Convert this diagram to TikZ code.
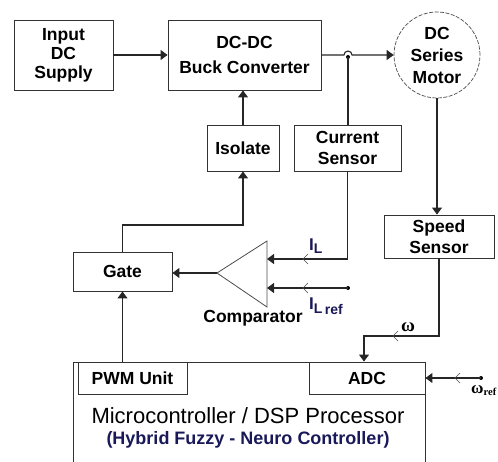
\documentclass[tikz,border=0pt]{standalone}
\usepackage{fontspec}
\setmainfont{Liberation Sans}
\newfontfamily\serifb{Liberation Serif}
\usetikzlibrary{arrows.meta,calc}
\definecolor{navytext}{RGB}{25,25,90}
\begin{document}
\begin{tikzpicture}[x=1pt,y=-1pt,
  box/.style={draw=black!80, line width=0.9pt, fill=white, inner sep=0pt, align=center, font=\fontsize{17.5}{19}\selectfont\bfseries},
  conn/.style={draw=black!85, line width=1.1pt},
  arr/.style={conn, -{Triangle[length=7pt,width=10pt]}},
  chev/.pic={\draw[black!70, line width=0.6pt] (5,-5) -- (0,0) -- (5,5);},
  jdot/.style={circle, fill=black, inner sep=0pt, minimum size=4pt}
]
\useasboundingbox (0,0) rectangle (498,462);
\clip (0,0) rectangle (498,462);

% boxes
\node[box, minimum width=99pt, minimum height=70pt] (input) at (63.5,55) {Input\\DC\\Supply};
\node[box, minimum width=153pt, minimum height=70pt, font=\fontsize{17.5}{25}\selectfont\bfseries] (buck) at (244.5,55) {DC-DC\\Buck Converter};
\node[draw=black!70, line width=0.7pt, dash pattern=on 4pt off 1.5pt, circle, minimum size=86pt, inner sep=0pt, align=center, font=\fontsize{17.5}{22}\selectfont\bfseries] (motor) at (437,55) {DC\\Series\\Motor};
\node[box, minimum width=72pt, minimum height=46pt] (iso) at (243,148) {Isolate};
\node[box, minimum width=107pt, minimum height=46pt, font=\fontsize{17.5}{21}\selectfont\bfseries] (cur) at (347.5,148) {Current\\Sensor};
\node[box, minimum width=110pt, minimum height=43pt, font=\fontsize{17.5}{21}\selectfont\bfseries] (speed) at (439,236.5) {Speed\\Sensor};
\node[box, minimum width=99pt, minimum height=39pt] (gate) at (122.5,271.5) {Gate};
\node[font=\fontsize{17.5}{20}\selectfont\bfseries, inner sep=0pt] (complbl) at (253,318) {Comparator};

\node[draw=black!80, line width=0.9pt, minimum width=352pt, minimum height=160pt, inner sep=0pt] (mcu) at (249,442) {};
\node[box, minimum width=109pt, minimum height=32pt] (pwm) at (132.5,378) {PWM Unit};
\node[box, minimum width=116pt, minimum height=32pt] (adc) at (367,378) {ADC};
\node[font=\fontsize{22}{24}\selectfont, inner sep=0pt] (mtext) at (248,416) {Microcontroller / DSP Processor};
\node[font=\fontsize{18}{20}\selectfont\bfseries, text=navytext, inner sep=0pt] (htext) at (248,440) {(Hybrid Fuzzy - Neuro Controller)};

% comparator
\coordinate (compT) at (267,241);
\coordinate (compB) at (267,307);
\coordinate (compA) at (217,273);
\coordinate (inL) at (267,259);
\coordinate (inR) at (267,288);
\draw[draw=black!70, line width=0.8pt] (compT) -- (compB) -- (compA) -- cycle;

% coordinates
\coordinate (hop) at (348,55);
\coordinate (gbend) at (243,225);
\coordinate (wbend) at (364,336);
\node[jdot] (j1) at (348,57) {};
\node[jdot] (dref) at (348,288) {};
\node[jdot] (dw) at (481,378) {};

% connectors
\draw[arr] (input.east) -- (buck.west);
\draw[arr] (buck.east) -- ($(hop)+(-4,0)$) arc[start angle=180,end angle=0,radius=4pt] -- (motor.west);
\draw[conn] (j1.center) -- (j1.center |- cur.north);
\draw[arr] (cur.south) |- (inL);
\draw[arr] (dref.center) -- (inR);
\draw[arr] (compA) -- (compA -| gate.east);
\draw[arr] (gate.north) |- (gbend) -- (iso.south);
\draw[arr] (iso.north) -- (iso.north |- buck.south);
\draw[arr] (motor.south) -- (motor.south |- speed.north);
\draw[arr] (speed.south) |- (wbend) -- (wbend |- adc.north);
\draw[arr] (gate.south |- pwm.north) -- (gate.south);
\draw[arr] (dw.center) -- (adc.east);

% chevrons
\pic at (303,259) {chev};
\pic at (303,288) {chev};
\pic at (393,336) {chev};
\pic at (455,378) {chev};

% labels
\node[anchor=base west, inner sep=0pt, text=navytext, font=\fontsize{17}{17}\selectfont\bfseries] (lIL) at (309,251) {I\raisebox{-3pt}{\fontsize{14}{14}\selectfont L}};
\node[anchor=base west, inner sep=0pt, text=navytext, font=\fontsize{17}{17}\selectfont\bfseries] (lILref) at (309,310) {I\raisebox{-3pt}{\fontsize{14}{14}\selectfont L}\raisebox{-5pt}{\fontsize{14}{14}\selectfont\,ref}};
\node[anchor=base west, inner sep=0pt, font=\serifb\bfseries\fontsize{19}{19}\selectfont] (lw) at (401,331) {ω};
\node[anchor=base west, inner sep=0pt, font=\serifb\bfseries\fontsize{17}{17}\selectfont] (lwr) at (471,393) {ω\raisebox{-2.5pt}{\fontsize{10.5}{10.5}\selectfont ref}};
\end{tikzpicture}
\end{document}
